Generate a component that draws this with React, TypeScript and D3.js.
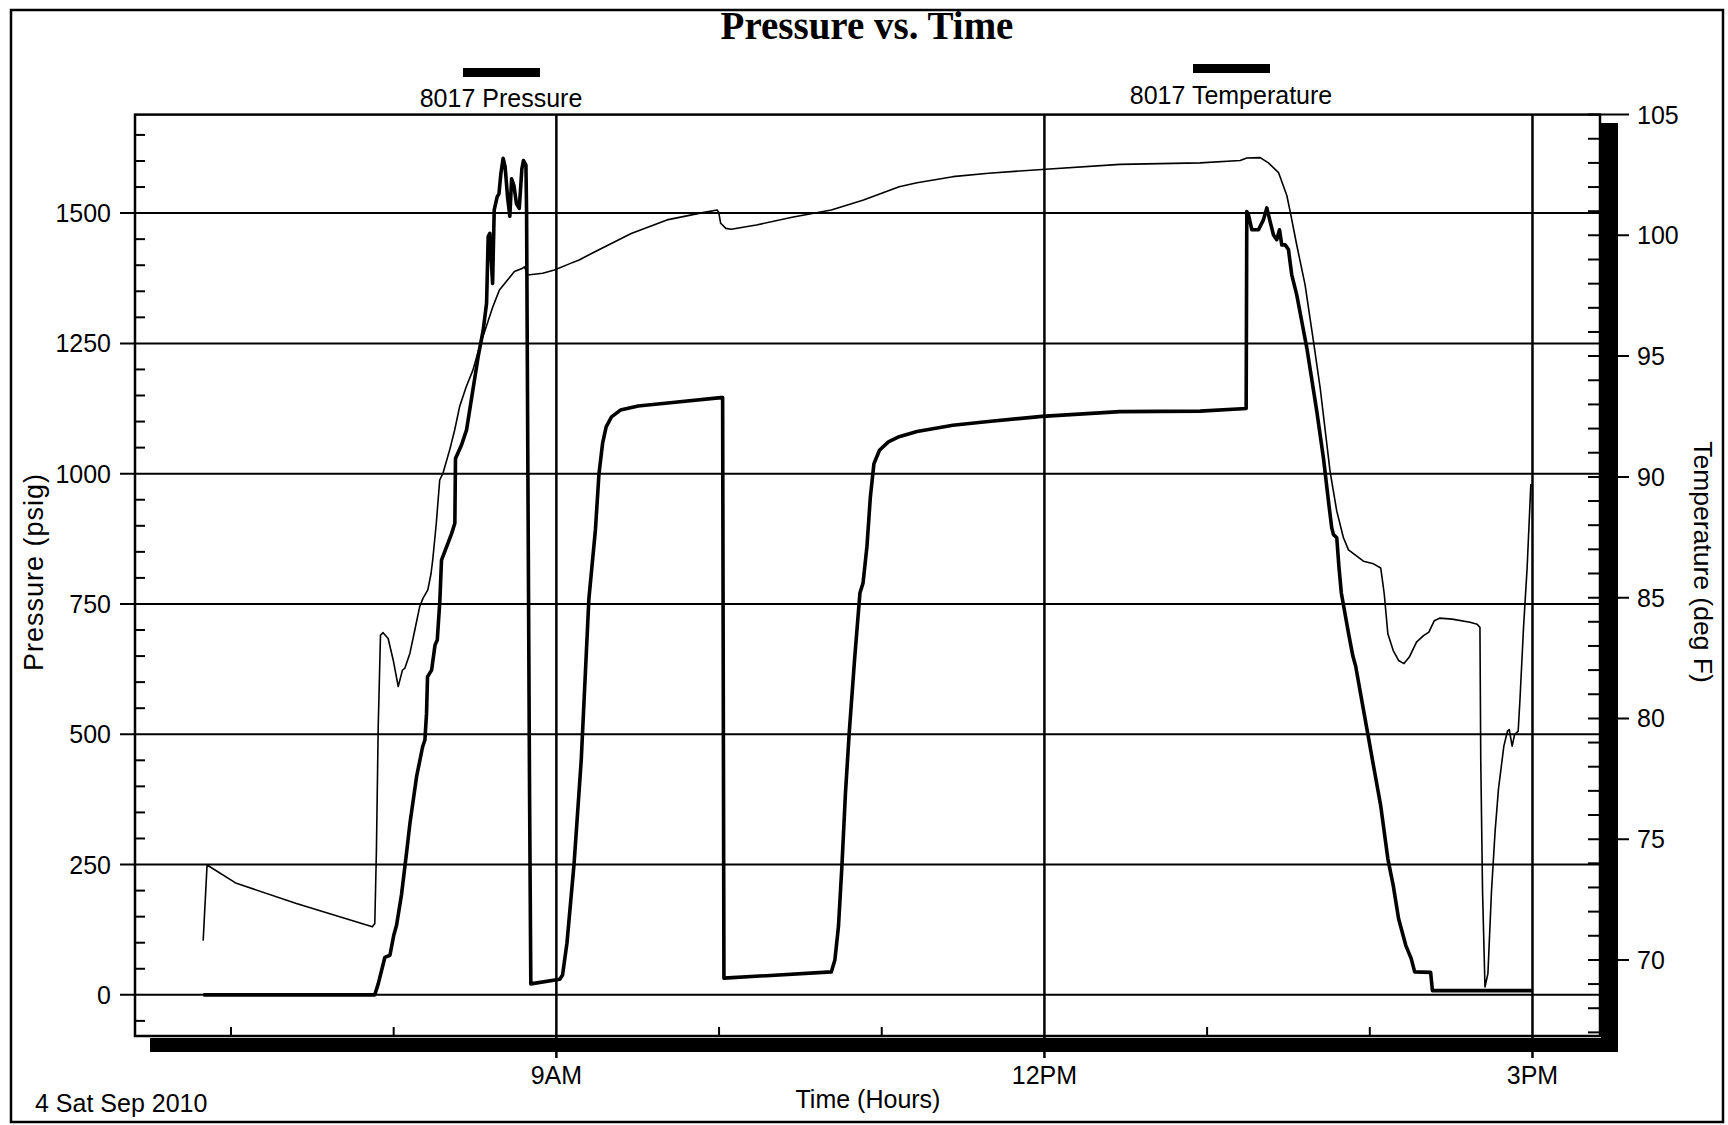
import React from "react";
import * as d3 from "d3";

// ---- data (hours of day, values) ----
const pressureHours = [6.83,7.884,7.905,7.946,7.977,8.001,8.018,8.048,8.079,8.1,8.141,8.178,8.192,8.202,8.208,8.233,8.254,8.268,8.284,8.294,8.356,8.376,8.38,8.417,8.448,8.519,8.55,8.571,8.581,8.591,8.608,8.618,8.636,8.647,8.659,8.673,8.685,8.7,8.714,8.725,8.739,8.755,8.772,8.788,8.798,8.813,8.817,8.821,8.835,8.843,9.021,9.038,9.065,9.109,9.153,9.2,9.24,9.262,9.284,9.306,9.339,9.394,9.503,9.7,10.01,10.022,10.03,10.69,10.712,10.734,10.755,10.777,10.8,10.833,10.866,10.885,10.909,10.93,10.952,10.986,11.041,11.107,11.217,11.437,11.656,11.985,12.464,12.957,13.24,13.244,13.254,13.275,13.316,13.346,13.367,13.387,13.408,13.428,13.445,13.459,13.48,13.5,13.52,13.551,13.582,13.613,13.674,13.715,13.746,13.766,13.777,13.797,13.81,13.825,13.869,13.896,13.913,13.957,13.99,14.023,14.067,14.111,14.144,14.177,14.221,14.254,14.276,14.374,14.385,15.0];
const pressurePsig = [0,0,21,72,76,115,134,192,272,329,419,476,489,540,610,623,671,681,757,834,885,905,1029,1055,1084,1224,1275,1327,1455,1461,1365,1506,1531,1537,1576,1605,1589,1531,1494,1566,1553,1518,1509,1585,1601,1592,1502,1249,400,21,30,38,99,252,451,760,892,1000,1058,1090,1109,1122,1130,1136,1146,1146,32,44,67,131,246,387,502,643,771,790,860,955,1019,1045,1061,1071,1081,1093,1100,1110,1119,1120,1125,1503,1497,1468,1468,1487,1510,1484,1458,1449,1468,1439,1439,1430,1382,1343,1292,1241,1120,1030,947,896,883,877,822,771,694,650,631,554,497,439,363,261,210,146,95,70,44,43,8,8];

const tempHours = [6.829,6.853,7.033,7.402,7.869,7.884,7.894,7.905,7.919,7.935,7.966,7.997,8.028,8.054,8.068,8.1,8.13,8.16,8.18,8.21,8.23,8.24,8.262,8.283,8.303,8.344,8.375,8.405,8.446,8.487,8.528,8.569,8.61,8.65,8.691,8.742,8.793,8.804,8.824,8.916,8.988,9.087,9.14,9.219,9.46,9.68,9.9,9.988,9.998,10.01,10.042,10.075,10.229,10.449,10.69,10.888,11.107,11.217,11.437,11.656,11.985,12.464,12.957,13.203,13.244,13.326,13.377,13.439,13.49,13.51,13.551,13.602,13.654,13.695,13.756,13.797,13.838,13.869,13.961,14.023,14.067,14.08,14.089,14.111,14.144,14.177,14.21,14.243,14.287,14.33,14.363,14.396,14.429,14.506,14.616,14.66,14.677,14.682,14.693,14.708,14.726,14.748,14.77,14.791,14.824,14.846,14.857,14.875,14.89,14.912,14.923,14.945,14.967,14.99];
const tempDegF = [70.8,73.93,73.17,72.34,71.37,71.51,74.55,79.66,83.45,83.55,83.31,82.42,81.32,82.0,82.07,82.7,83.66,84.63,84.97,85.32,86.01,86.56,88.08,89.87,90.15,91.11,91.94,92.9,93.73,94.42,95.39,96.22,97.05,97.74,98.08,98.5,98.64,98.7,98.36,98.43,98.57,98.84,98.98,99.26,100.08,100.64,100.94,101.05,100.95,100.5,100.29,100.25,100.43,100.75,101.05,101.46,102.01,102.18,102.43,102.57,102.73,102.94,103.0,103.1,103.2,103.22,103.0,102.6,101.65,101.0,99.6,97.96,95.6,93.68,90.22,88.58,87.48,86.98,86.51,86.4,86.23,85.6,85.14,83.5,82.81,82.4,82.27,82.54,83.16,83.43,83.57,84.04,84.15,84.11,83.98,83.9,83.77,78.31,72.84,68.88,69.43,72.84,75.3,77.08,78.85,79.47,79.54,78.85,79.33,79.47,80.77,83.77,86.23,89.7];

const pressureTicks = [0, 250, 500, 750, 1000, 1250, 1500];
const tempTicks = [70, 75, 80, 85, 90, 95, 100, 105];
const timeMajor = [9, 12, 15];
const timeMajorLabels = ["9AM", "12PM", "3PM"];
const timeMinor = [7, 8, 10, 11, 13, 14];

const SANS = "'Liberation Sans', Arial, sans-serif";
const SERIF = "'Liberation Serif', 'Times New Roman', serif";

export default function App() {
  const L = 135, R = 1600, T = 114.6, B = 1036;
  const x = d3.scaleLinear().domain([6.41, 15.415]).range([L, R]);
  const yP = d3.scaleLinear().domain([-79, 1689]).range([B, T]);
  const yT = d3.scaleLinear().domain([66.85, 105]).range([B, T]);

  const pData = pressureHours.map((h, i) => [h, pressurePsig[i]] as [number, number]);
  const tData = tempHours.map((h, i) => [h, tempDegF[i]] as [number, number]);
  const pLine = d3.line<[number, number]>().x(d => x(d[0])).y(d => yP(d[1]));
  const tLine = d3.line<[number, number]>().x(d => x(d[0])).y(d => yT(d[1]));

  const pMinor = d3.range(-50, 1651, 50).filter(v => v % 250 !== 0);
  const tMinor = d3.range(67, 105, 1).filter(v => v % 5 !== 0);

  return (
    <svg width={1728} height={1125} style={{ position: "absolute", left: 0, top: 0, display: "block", background: "#fff" }}>
      {/* outer frame */}
      <rect x={11} y={10} width={1712} height={1112} fill="none" stroke="#000" strokeWidth={2.5} />
      {/* title */}
      <text x={867} y={39} textAnchor="middle" fontFamily={SERIF} fontSize={39} fontWeight="bold">Pressure vs. Time</text>
      {/* legend */}
      <rect x={463} y={68} width={77} height={9} fill="#000" />
      <text x={501} y={107} textAnchor="middle" fontFamily={SANS} fontSize={25}>8017 Pressure</text>
      <rect x={1193} y={64} width={77} height={9} fill="#000" />
      <text x={1231} y={104} textAnchor="middle" fontFamily={SANS} fontSize={25}>8017 Temperature</text>

      {/* shadow */}
      <rect x={150} y={1038} width={1468} height={14} fill="#000" />
      <rect x={1601} y={123} width={17} height={929} fill="#000" />

      {/* grid lines */}
      {pressureTicks.map(v => (
        <line key={"gp" + v} x1={L - 15} x2={R} y1={yP(v)} y2={yP(v)} stroke="#000" strokeWidth={2} />
      ))}
      {timeMajor.map(v => (
        <line key={"gt" + v} x1={x(v)} x2={x(v)} y1={T} y2={1058} stroke="#000" strokeWidth={2.5} />
      ))}

      {/* plot frame */}
      <rect x={L} y={T} width={R - L} height={B - T} fill="none" stroke="#000" strokeWidth={2.5} />

      {/* left minor ticks */}
      {pMinor.map(v => (
        <line key={"pm" + v} x1={L} x2={L + 10} y1={yP(v)} y2={yP(v)} stroke="#000" strokeWidth={2} />
      ))}
      {/* right ticks */}
      {tMinor.map(v => (
        <line key={"tm" + v} x1={R - 12} x2={R} y1={yT(v)} y2={yT(v)} stroke="#000" strokeWidth={2} />
      ))}
      {tempTicks.map(v => (
        <line key={"tM" + v} x1={R - 12} x2={1629} y1={yT(v)} y2={yT(v)} stroke="#000" strokeWidth={2} />
      ))}
      {/* bottom minor ticks */}
      {timeMinor.map(v => (
        <line key={"xm" + v} x1={x(v)} x2={x(v)} y1={B} y2={B - 9} stroke="#000" strokeWidth={2} />
      ))}

      {/* series */}
      <path d={tLine(tData) || ""} fill="none" stroke="#000" strokeWidth={1.6} strokeLinejoin="round" />
      <path d={pLine(pData) || ""} fill="none" stroke="#000" strokeWidth={3.6} strokeLinejoin="round" />

      {/* tick labels */}
      {pressureTicks.map(v => (
        <text key={"lp" + v} x={111} y={yP(v) + 9} textAnchor="end" fontFamily={SANS} fontSize={25}>{v}</text>
      ))}
      {tempTicks.map(v => (
        <text key={"lt" + v} x={1637} y={yT(v) + 9} textAnchor="start" fontFamily={SANS} fontSize={25}>{v}</text>
      ))}
      {timeMajor.map((v, i) => (
        <text key={"lx" + v} x={x(v)} y={1084} textAnchor="middle" fontFamily={SANS} fontSize={25}>{timeMajorLabels[i]}</text>
      ))}

      {/* axis titles */}
      <text transform="translate(43,572) rotate(-90)" textAnchor="middle" fontFamily={SANS} fontSize={27} letterSpacing={1}>Pressure (psig)</text>
      <text transform="translate(1694,562) rotate(90)" textAnchor="middle" fontFamily={SANS} fontSize={26.5}>Temperature (deg F)</text>
      <text x={868} y={1108} textAnchor="middle" fontFamily={SANS} fontSize={25}>Time (Hours)</text>
      <text x={35} y={1112} textAnchor="start" fontFamily={SANS} fontSize={25}>4 Sat Sep 2010</text>
    </svg>
  );
}
